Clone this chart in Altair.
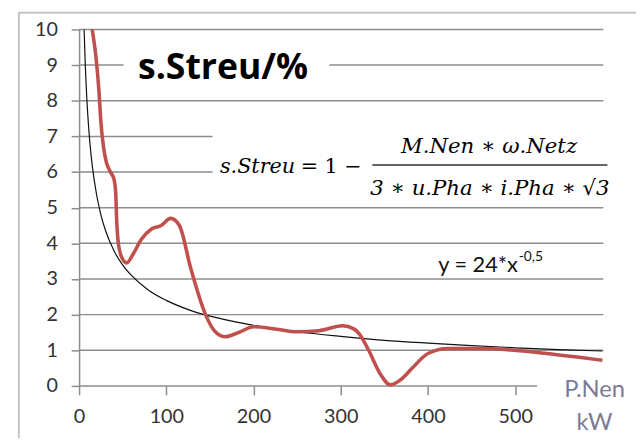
import altair as alt
import pandas as pd

# ---- data ----
red_x = [15, 19, 22.7, 25, 28, 31, 36, 40, 42, 43, 45, 49, 54.5, 62, 71, 83, 94, 105, 115,
         128, 145, 155, 167, 183, 200, 225, 250, 275, 302, 315, 321, 332, 345, 357, 370,
         382, 400, 423, 461, 499, 536, 600]
red_y = [10.0, 9.3, 8.3, 7.4, 6.7, 6.3, 6.0, 5.8, 5.4, 4.7, 4.0, 3.6, 3.45, 3.7, 4.1, 4.4, 4.5, 4.7, 4.5,
         3.3, 2.0, 1.55, 1.38, 1.5, 1.66, 1.6, 1.52, 1.55, 1.69, 1.6, 1.47, 1.0, 0.35, 0.03, 0.2,
         0.5, 0.91, 1.05, 1.05, 1.0, 0.91, 0.72]

fit_x = [5.76, 7, 8, 10, 12, 15, 20, 25, 30, 40, 50, 60, 80, 100, 130, 160, 200, 250, 300,
         350, 400, 450, 500, 550, 600]
fit_y = [10.0, 9.07, 8.49, 7.59, 6.93, 6.2, 5.37, 4.8, 4.38, 3.79, 3.39, 3.1, 2.68, 2.4, 2.1,
         1.9, 1.7, 1.52, 1.39, 1.28, 1.2, 1.13, 1.07, 1.02, 0.98]

grid_levels = [0, 1, 2, 3, 4, 5, 6, 7, 8, 9, 10]
grid_end = [525, 601, 601, 601, 601, 601, 601, 601, 601, 601, 601]
x_ticks = [0, 100, 200, 300, 400, 500]
y_ticks = [0, 1, 2, 3, 4, 5, 6, 7, 8, 9, 10]

title_text = "s.Streu/%"
formula_var = "s.Streu"
formula_eq = "= 1 −"
formula_num = "M.Nen ∗ ω.Netz"
formula_den = "3 ∗ u.Pha ∗ i.Pha ∗ √3"
fit_label = "y = 24*x"
fit_exp = "-0,5"
x_title = ["P.Nen", "kW"]

# ---- scales / axes (identical in every layer) ----
GRAY = "#8c8c8c"
SANS = "Lato"
SERIF = "DejaVu Serif"
xs = alt.Scale(domain=[0, 600], nice=False, zero=False)
ys = alt.Scale(domain=[0, 10], nice=False, zero=False)
x_axis = alt.Axis(values=x_ticks, domain=False, grid=False, ticks=True,
                  tickSize=9, tickColor=GRAY, tickWidth=1.5,
                  labelFont=SANS, labelFontSize=20, labelColor="#333333",
                  labelPadding=12, labelOverlap=False, labelFlush=False, title=None)
y_axis = alt.Axis(values=y_ticks, domain=True, domainColor=GRAY,
                  domainWidth=1.5, grid=False, ticks=True, tickSize=8,
                  tickColor=GRAY, tickWidth=1.5, labelFont=SANS,
                  labelFontSize=20, labelColor="#333333",
                  labelPadding=14, labelOverlap=False, labelFlush=False,
                  labelSeparation=0, title=None)


def X(f):
    return alt.X(f, scale=xs, axis=x_axis)


def Y(f):
    return alt.Y(f, scale=ys, axis=y_axis)


grid_df = pd.DataFrame({"y": grid_levels, "x0": [0] * len(grid_levels), "x1": grid_end})
grid = alt.Chart(grid_df).mark_rule(color=GRAY, strokeWidth=1.5).encode(
    x=X("x0:Q"), x2="x1:Q", y=Y("y:Q"))

box_df = pd.DataFrame({"x0": [51, 153], "x1": [287, 620], "y0": [8.25, 5.3], "y1": [9.5, 7.75]})
boxes = alt.Chart(box_df).mark_rect(color="white").encode(
    x=X("x0:Q"), x2="x1:Q", y=Y("y0:Q"), y2="y1:Q")

red = alt.Chart(pd.DataFrame({"x": red_x, "y": red_y})).mark_line(
    color="#C0504D", strokeWidth=3.6, interpolate="monotone").encode(x=X("x:Q"), y=Y("y:Q"))
fit = alt.Chart(pd.DataFrame({"x": fit_x, "y": fit_y})).mark_line(
    color="#111111", strokeWidth=1.2, interpolate="monotone").encode(x=X("x:Q"), y=Y("y:Q"))


def txt(t, x, y, **kw):
    return alt.Chart(pd.DataFrame({"x": [x], "y": [y], "t": [t]})).mark_text(**kw).encode(
        x=X("x:Q"), y=Y("y:Q"), text="t:N")


title = txt(title_text, 165, 8.6, font="Open Sans", fontWeight="bold", fontSize=36,
            align="center", baseline="alphabetic", color="#000000")
f_var = txt(formula_var, 161.5, 5.96, font=SERIF, fontStyle="italic", fontSize=21,
            align="left", baseline="alphabetic", color="#000000")
f_eq = txt(formula_eq, 254, 5.96, font=SERIF, fontSize=21,
           align="left", baseline="alphabetic", color="#000000")
f_num = txt(formula_num, 470, 6.54, font=SERIF, fontStyle="italic", fontSize=21.5,
            align="center", baseline="alphabetic", color="#000000")
f_den = txt(formula_den, 471, 5.35, font=SERIF, fontStyle="italic", fontSize=21.5,
            align="center", baseline="alphabetic", color="#000000")
bar = alt.Chart(pd.DataFrame({"x0": [336.2], "x1": [605.7], "y": [6.2]})).mark_rule(
    color="#333333", strokeWidth=1.6).encode(x=X("x0:Q"), x2="x1:Q", y=Y("y:Q"))
l_fit = txt(fit_label, 503, 3.21, font=SANS, fontSize=22, align="right",
            baseline="alphabetic", color="#111111")
l_exp = txt(fit_exp, 504, 3.5, font=SANS, fontSize=14, align="left",
            baseline="alphabetic", color="#111111")
t1 = txt(x_title[0], 591, -0.3, font=SANS, fontSize=24, align="center",
         baseline="alphabetic", color="#7b7b95")
t2 = txt(x_title[1], 591, -1.25, font=SANS, fontSize=24, align="center",
         baseline="alphabetic", color="#7b7b95")

one = pd.DataFrame({"a": [0]})
frame = alt.Chart(one).mark_rect(fill=None, fillOpacity=0, stroke="#c4c4c4", strokeWidth=2).encode(
    x=alt.value(-61), x2=alt.value(700), y=alt.value(-17), y2=alt.value(460))

chart = alt.layer(grid, boxes, fit, red, title, f_var, f_eq, f_num, f_den, bar, l_fit, l_exp,
                  t1, t2, frame).properties(
    width=530, height=361,
    autosize=alt.AutoSizeParams(type="none"),
    padding={"left": 72, "top": 19, "right": 34, "bottom": 50},
).configure_view(stroke=None).configure_axis(labelOverlap=False)

chart.save("out.html", embed_options={"renderer": "svg", "actions": False})
